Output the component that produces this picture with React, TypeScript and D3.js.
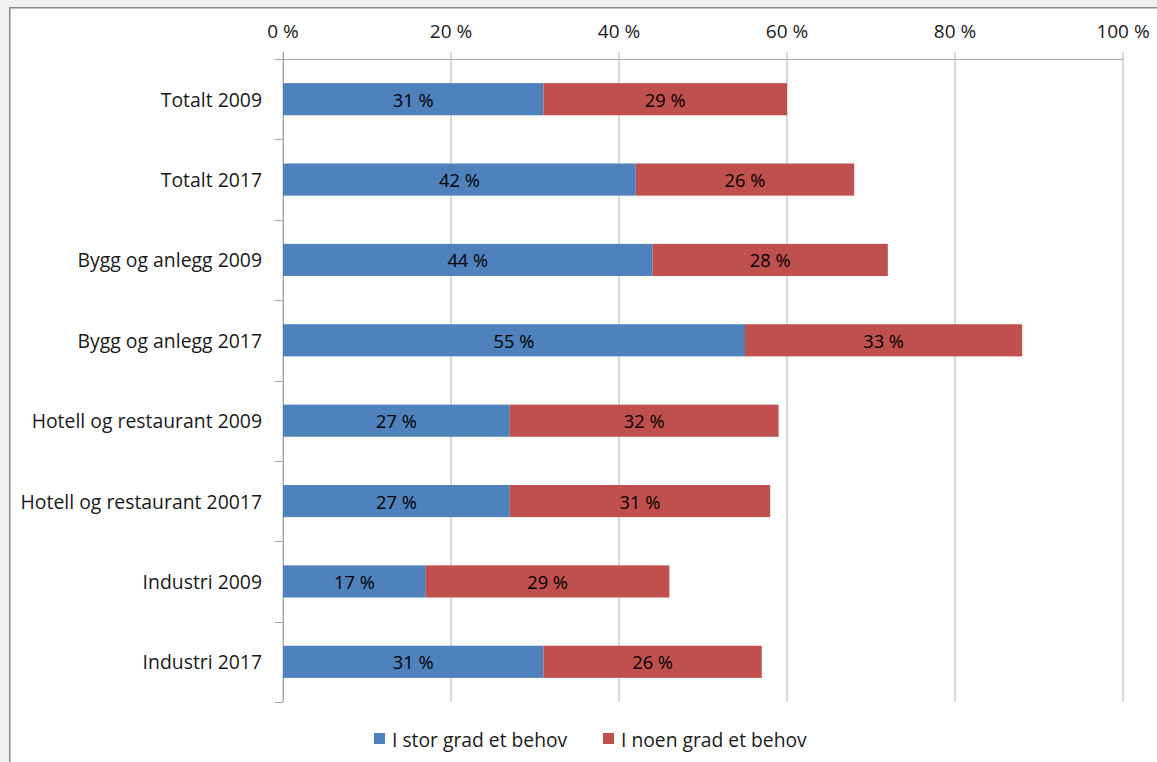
import React from 'react';
import * as d3 from 'd3';

const categories = [
  'Totalt 2009',
  'Totalt 2017',
  'Bygg og anlegg 2009',
  'Bygg og anlegg 2017',
  'Hotell og restaurant 2009',
  'Hotell og restaurant 20017',
  'Industri 2009',
  'Industri 2017',
];
const seriesNames = ['I stor grad et behov', 'I noen grad et behov'];
const storGrad = [31, 42, 44, 55, 27, 27, 17, 31];
const noenGrad = [29, 26, 28, 33, 32, 31, 29, 26];
const xTicks = [0, 20, 40, 60, 80, 100];
const colors = ['#4F81BD', '#C0504D'];

const W = 1157;
const H = 762;
const FONT = "'Open Sans', sans-serif";

export default function App() {
  const x = d3.scaleLinear().domain([0, 100]).range([283, 1123]);
  const y = d3.scaleBand<string>().domain(categories).range([59, 702]).paddingInner(0.6).paddingOuter(0.3);
  const band = d3.scaleBand<string>().domain(categories).range([59, 702]);

  const rows = categories.map((c, i) => ({ cat: c, vals: [storGrad[i], noenGrad[i]] }));
  const stack = d3.stack<{ cat: string; vals: number[] }>()
    .keys(['0', '1'])
    .value((d, k) => d.vals[+k]);
  const layers = stack(rows);

  const boundaries = d3.range(categories.length + 1).map(i => 59 + i * band.step());

  return (
    <div style={{ position: 'fixed', left: 0, top: 0 }}>
      <svg width={W} height={H} style={{ display: 'block', fontFamily: FONT }}>
        <rect x={0} y={0} width={W} height={H} fill="#f0f0f0" />
        <rect x={9.75} y={7.75} width={W} height={H} fill="#ffffff" stroke="#8a8a8a" strokeWidth={1.5} />

        {/* gridlines */}
        {xTicks.map(t => (
          <line key={'g' + t} x1={x(t)} x2={x(t)} y1={52} y2={702} stroke="#b3b3b3" strokeWidth={1} />
        ))}
        {/* top axis */}
        <line x1={275} x2={x(100)} y1={59.5} y2={59.5} stroke="#a6a6a6" strokeWidth={1} />
        {xTicks.map(t => (
          <text key={'t' + t} x={x(t)} y={31} textAnchor="middle" dominantBaseline="central" fontSize={19} fill="#1a1a1a">
            {t} %
          </text>
        ))}
        {/* category axis */}
        <line x1={283.5} x2={283.5} y1={52} y2={702} stroke="#a6a6a6" strokeWidth={1} />
        {boundaries.map((b, i) => (
          <line key={'b' + i} x1={275} x2={283} y1={Math.round(b) + 0.5} y2={Math.round(b) + 0.5} stroke="#a6a6a6" strokeWidth={1} />
        ))}
        {categories.map(c => (
          <text key={c} x={262} y={(band(c) ?? 0) + band.bandwidth() / 2} textAnchor="end" dominantBaseline="central" fontSize={19.4} fill="#1a1a1a">
            {c}
          </text>
        ))}

        {/* bars */}
        {layers.map((layer, li) => (
          <g key={'l' + li}>
            {layer.map(d => (
              <g key={d.data.cat}>
                <rect x={x(d[0])} y={y(d.data.cat)} width={x(d[1]) - x(d[0])} height={y.bandwidth()} fill={colors[li]} />
                <text
                  x={(x(d[0]) + x(d[1])) / 2}
                  y={(y(d.data.cat) ?? 0) + y.bandwidth() / 2}
                  textAnchor="middle"
                  dominantBaseline="central"
                  fontSize={18.3}
                  fill="#000"
                >
                  {d[1] - d[0]} %
                </text>
              </g>
            ))}
          </g>
        ))}

        {/* legend */}
        {seriesNames.map((s, i) => {
          const lx = [374, 603][i];
          return (
            <g key={s}>
              <rect x={lx} y={733} width={11} height={11} fill={colors[i]} />
              <text x={lx + 18} y={739} dominantBaseline="central" fontSize={19.3} fill="#1a1a1a">
                {s}
              </text>
            </g>
          );
        })}
      </svg>
    </div>
  );
}
